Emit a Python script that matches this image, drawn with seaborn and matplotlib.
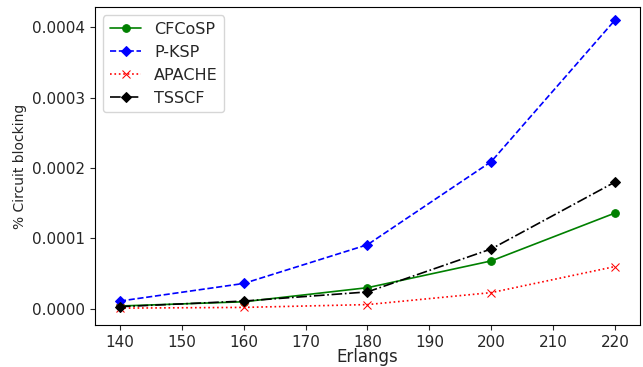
import matplotlib
matplotlib.use("Agg")
import matplotlib.pyplot as plt
import seaborn as sns
import pandas as pd

erlangs = [140, 160, 180, 200, 220]
cfcosp = [0.000004, 0.000010, 0.000030, 0.000068, 0.000136]
pksp = [0.000011, 0.000036, 0.000091, 0.000209, 0.000410]
apache = [0.000001, 0.000002, 0.000006, 0.000023, 0.000060]
tsscf = [0.000003, 0.000011, 0.000024, 0.000085, 0.000180]

sns.set_style("ticks")
plt.rcParams['font.family'] = ['DejaVu Sans']
plt.rcParams['xtick.major.size'] = 3.5
plt.rcParams['ytick.major.size'] = 3.5
plt.rcParams['xtick.major.pad'] = 3.5
plt.rcParams['ytick.major.pad'] = 3.5

fig, ax = plt.subplots(figsize=(6.43, 3.67), dpi=100)

series = [
    ("CFCoSP", cfcosp, "green", "-", "o", 5.5),
    ("P-KSP", pksp, "blue", "--", "D", 5),
    ("APACHE", apache, "red", ":", "x", 5.5),
    ("TSSCF", tsscf, "black", "-.", "D", 5),
]
for name, vals, color, ls, mk, ms in series:
    df = pd.DataFrame({"Erlangs": erlangs, "val": vals})
    sns.lineplot(data=df, x="Erlangs", y="val", ax=ax, color=color, linestyle=ls,
                 marker=mk, markersize=ms, markeredgecolor=color,
                 linewidth=1.2, label=name)

ax.set_xlabel("Erlangs", fontsize=12, labelpad=-1)
ax.set_ylabel("% Circuit blocking", fontsize=10)
ax.tick_params(labelsize=11)
ax.set_xticks([140, 150, 160, 170, 180, 190, 200, 210, 220])
ax.set_yticks([0, 0.0001, 0.0002, 0.0003, 0.0004])
ax.set_yticklabels(["0.0000", "0.0001", "0.0002", "0.0003", "0.0004"])
ax.set_xlim(136, 224)
ax.set_ylim(-0.000023, 0.000428)
for s in ax.spines.values():
    s.set_color("black")
    s.set_linewidth(0.8)
ax.legend(loc="upper left", fontsize=11.5, frameon=True)
fig.subplots_adjust(left=0.148, right=0.995, top=0.98, bottom=0.1144)
fig.savefig("out.png", dpi=100)
